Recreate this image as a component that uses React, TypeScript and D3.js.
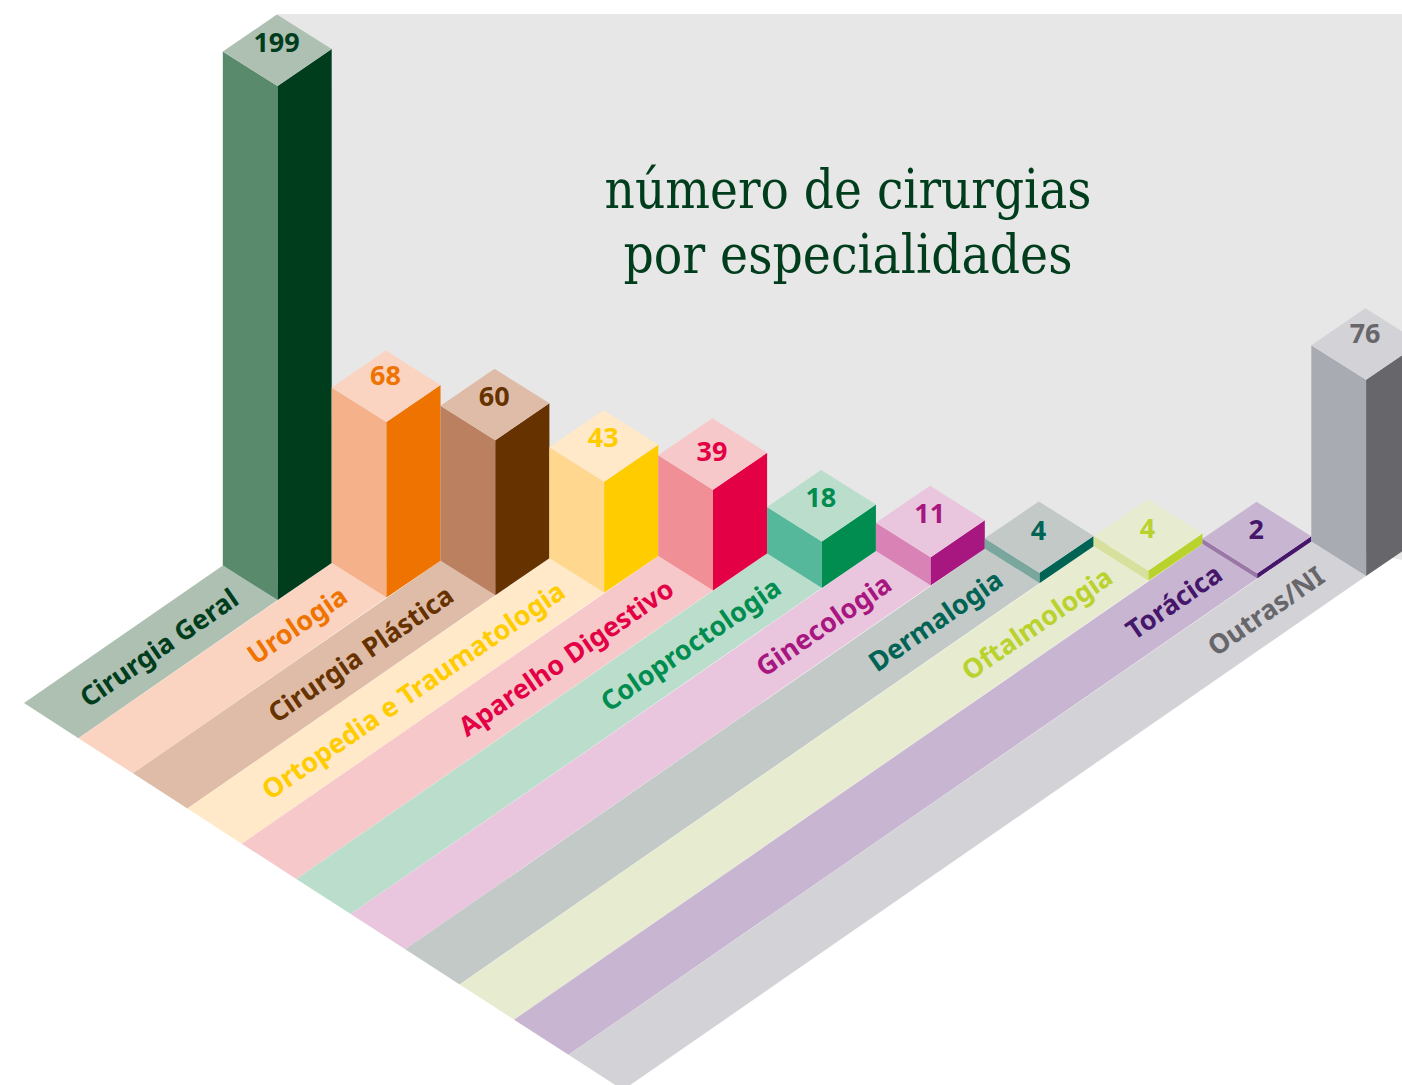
import React from "react";
import * as d3 from "d3";

const categories = ["Cirurgia Geral","Urologia","Cirurgia Plástica","Ortopedia e Traumatologia","Aparelho Digestivo","Coloproctologia","Ginecologia","Dermalogia","Oftalmologia","Torácica","Outras/NI"];
const values = [199,68,60,43,39,18,11,4,4,2,76];
const topColors = ["#aec0b2","#fad4c0","#dfbca8","#ffe9c8","#f6c8ca","#bbddcc","#e9c6de","#c2c9c7","#e7ecd0","#c8b5d2","#d3d2d6"];
const leftColors = ["#5a8a6c","#f5b18a","#ba8060","#ffd78f","#f18f96","#55b89b","#d882b6","#7aa69e","#d7e09c","#9a78a6","#a9abb3"];
const rightColors = ["#003d1c","#ef7300","#663200","#ffcc00","#e30045","#008d4f","#a8177f","#006354","#bad22e","#45166a","#67666b"];
const titleLines = ["número de cirurgias","por especialidades"];

const W = 1402, H = 1085;
const idx = categories.map((_, i) => i);
const xFront = d3.scaleLinear().domain([0, 10]).range([277.6, 1366.1]);
const yFront = d3.scaleLinear().domain([0, 10]).range([600, 576]);
const hScale = d3.scaleLinear().domain([0, 199]).range([0, 514]);
const xLow = d3.scaleLinear().domain([0, 11]).range([24, 623]);
const yLow = d3.scaleLinear().domain([0, 11]).range([703, 1090]);
const LEFT: [number, number] = [-54.8, -34.5];
const RIGHT: [number, number] = [54.1, -36.9];

const poly = d3.line<[number, number]>().x(d => d[0]).y(d => d[1]);
const closed = (pts: [number, number][]) => poly(pts) + "Z";
const ANGLE = -34.6;
const TITLE = "#003d1c";
const SANS = "'Noto Sans', sans-serif";
// hand-placed labels in the source sit a little lower on a few caps
const valueNudge = (v: number) => (v === 39 ? 8 : v === 4 ? 4 : v === 68 || v === 76 ? 0 : 2);
// hand-placed category labels: small slide along the strip
const labelSlide = (i: number) => ({ 2: -3, 5: -2, 7: 3, 8: 4, 9: 5, 10: -3 } as Record<number, number>)[i] ?? 0;

export default function App() {
  const backdrop: [number, number][] = [
    [xFront(0), 14], [W, 14], [W, 560],
    [xFront(10) + LEFT[0], yFront(10) + LEFT[1]],
    [xFront(0) + RIGHT[0], yFront(0) + RIGHT[1]],
    [xFront(0), yFront(0)],
  ];
  return (
    <svg width={W} height={H} viewBox={`0 0 ${W} ${H}`} style={{ position: "absolute", left: 0, top: 0, background: "#fff" }}>
      <path d={closed(backdrop)} fill="#e7e7e7" />
      {idx.map(i => {
        const fx = xFront(i), fy = yFront(i);
        return (
          <path key={i} fill={topColors[i]} d={closed([
            [fx + LEFT[0], fy + LEFT[1]], [fx, fy], [xLow(i + 1), yLow(i + 1)], [xLow(i), yLow(i)],
          ])} />
        );
      })}
      <g fontFamily="'DejaVu Serif', serif" fontSize={55} fill={TITLE} textAnchor="middle">
        {titleLines.map((t, i) => (
          <text key={t} x={848} y={208 + i * 64.6} textLength={i === 0 ? 487 : 449} lengthAdjust="spacingAndGlyphs">{t}</text>
        ))}
      </g>
      {idx.map(i => {
        const fx = xFront(i), fy = yFront(i), h = hScale(values[i]), ty = fy - h;
        const tl: [number, number] = [fx + LEFT[0], ty + LEFT[1]];
        const tr: [number, number] = [fx + RIGHT[0], ty + RIGHT[1]];
        const back: [number, number] = [fx + LEFT[0] + RIGHT[0], ty + LEFT[1] + RIGHT[1]];
        return (
          <g key={i}>
            <path fill={leftColors[i]} d={closed([tl, [fx, ty], [fx, fy], [fx + LEFT[0], fy + LEFT[1]]])} />
            <path fill={rightColors[i]} d={closed([[fx, ty], tr, [fx + RIGHT[0], fy + RIGHT[1]], [fx, fy]])} />
            <path fill={topColors[i]} d={closed([back, tr, [fx, ty], tl])} />
            <text x={fx - 1} y={ty - 36 - 10 + 9.5 + valueNudge(values[i])} textAnchor="middle" fontFamily={SANS} fontWeight={700} fontSize={27} fill={rightColors[i]}>{values[i]}</text>
          </g>
        );
      })}
      {idx.map(i => (
        <text key={i} textAnchor="end" fontFamily={SANS} fontWeight={700} fontSize={26.8} fill={rightColors[i]}
          transform={`translate(${xFront(i) - 37},${yFront(i) + 3}) rotate(${ANGLE}) translate(${labelSlide(i)},0)`}>{categories[i]}</text>
      ))}
    </svg>
  );
}
